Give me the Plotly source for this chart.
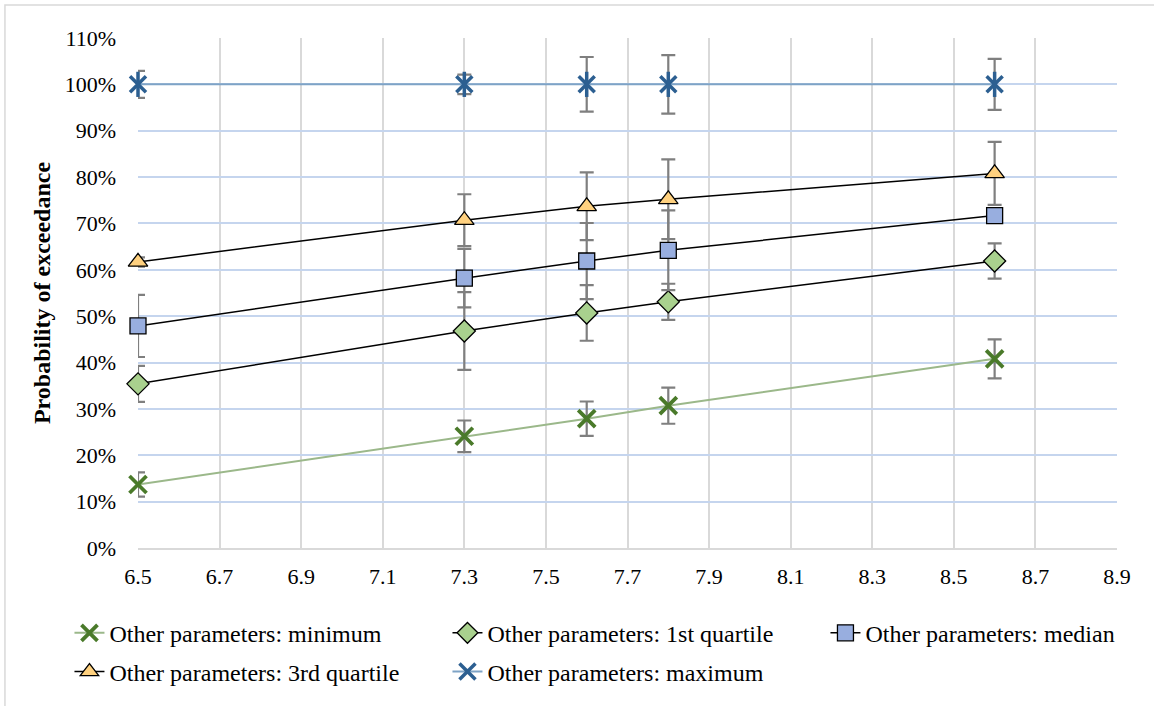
import plotly.graph_objects as go

x_vals = [6.5, 7.3, 7.6, 7.8, 8.6]

minimum = [0.137, 0.241, 0.279, 0.307, 0.408]
minimum_err = [0.026, 0.034, 0.037, 0.039, 0.042]

q1 = [0.354, 0.468, 0.507, 0.531, 0.619]
q1_err = [0.039, 0.084, 0.060, 0.039, 0.038]

median = [0.479, 0.582, 0.619, 0.642, 0.717]
median_err = [0.067, 0.063, 0.082, 0.086, 0.015]

q3 = [0.617, 0.707, 0.737, 0.752, 0.808]
q3_err = [0.010, 0.056, 0.073, 0.086, 0.068]

maximum = [1.0, 1.0, 1.0, 1.0, 1.0]
maximum_err = [0.029, 0.021, 0.059, 0.063, 0.055]

names = [
    "Other parameters: minimum",
    "Other parameters: 1st quartile",
    "Other parameters: median",
    "Other parameters: 3rd quartile",
    "Other parameters: maximum",
]

FONT = "Liberation Serif, Times New Roman, serif"
ERR_COLOR = "#7f7f7f"
MAX_COLOR = "#2c5f91"


def err(arr):
    return dict(type="data", array=arr, visible=True, color=ERR_COLOR,
                thickness=2.2, width=7)


fig = go.Figure()

fig.add_trace(go.Scatter(
    x=x_vals, y=minimum, name=names[0], mode="lines+markers", legend="legend",
    line=dict(color="#9bb88a", width=2),
    marker=dict(symbol="x-thin-open", size=17,
                line=dict(color="#4a7a2a", width=3.8), color="#4a7a2a"),
    error_y=err(minimum_err), cliponaxis=False,
))
fig.add_trace(go.Scatter(
    x=x_vals, y=q1, name=names[1], mode="lines+markers", legend="legend",
    line=dict(color="#000000", width=1.5),
    marker=dict(symbol="diamond", size=17, color="#a9d18e",
                line=dict(color="#000000", width=1.3)),
    error_y=err(q1_err), cliponaxis=False,
))
fig.add_trace(go.Scatter(
    x=x_vals, y=median, name=names[2], mode="lines+markers", legend="legend2",
    line=dict(color="#000000", width=1.5),
    marker=dict(symbol="square", size=16, color="#98aedf",
                line=dict(color="#000000", width=1.3)),
    error_y=err(median_err), cliponaxis=False,
))
fig.add_trace(go.Scatter(
    x=x_vals, y=q3, name=names[3], mode="lines+markers", legend="legend3",
    line=dict(color="#000000", width=1.5),
    marker=dict(symbol="triangle-up", size=17, color="#ffd17f",
                line=dict(color="#000000", width=1.3)),
    error_y=err(q3_err), cliponaxis=False,
))
fig.add_trace(go.Scatter(
    x=x_vals, y=maximum, name=names[4], mode="lines+markers", legend="legend3",
    line=dict(color="#7ea3c6", width=2),
    marker=dict(symbol="x-thin-open", size=16,
                line=dict(color=MAX_COLOR, width=3.5), color=MAX_COLOR),
    error_y=err(maximum_err), cliponaxis=False,
))
fig.add_trace(go.Scatter(
    x=x_vals, y=maximum, name=names[4], mode="markers", showlegend=False,
    marker=dict(symbol="line-ns-open", size=18, color=MAX_COLOR,
                line=dict(color=MAX_COLOR, width=3.5)),
    cliponaxis=False, hoverinfo="skip",
))

leg_common = dict(
    orientation="h", xanchor="left", yanchor="top",
    entrywidthmode="pixels",
    font=dict(family=FONT, size=24, color="#000000"),
    traceorder="normal", bgcolor="rgba(0,0,0,0)",
)

fig.update_layout(
    width=1154, height=706,
    margin=dict(l=138, r=37, t=38, b=156),
    paper_bgcolor="white", plot_bgcolor="white",
    font=dict(family=FONT, size=22, color="#000000"),
    showlegend=True,
    legend=dict(x=-0.0700, y=-0.123, entrywidth=333, **leg_common),
    legend2=dict(x=0.7022, y=-0.123, entrywidth=0, **leg_common),
    legend3=dict(x=-0.0700, y=-0.199, entrywidth=333, **leg_common),
    xaxis=dict(
        range=[6.5, 8.9], dtick=0.2, tick0=6.5, tickformat=".1f",
        showgrid=True, gridcolor="#d9d9d9", gridwidth=2,
        zeroline=False, showline=True, linecolor="#d9d9d9", linewidth=1.5,
        ticks="", ticklabelstandoff=8,
        tickfont=dict(family=FONT, size=22),
    ),
    yaxis=dict(
        range=[0, 1.1], dtick=0.1, tick0=0, tickformat=".0%",
        showgrid=True, gridcolor="#c5d5ee", gridwidth=2,
        zeroline=False, showline=False,
        ticks="", ticklabelstandoff=21,
        tickfont=dict(family=FONT, size=22),
        title=dict(text="<b>Probability of exceedance</b>", standoff=7,
                   font=dict(family=FONT, size=24)),
    ),
    shapes=[dict(
        type="rect", xref="paper", yref="paper",
        x0=-0.1359, x1=1.05, y0=-0.35, y1=1.0645,
        line=dict(color="#d9d9d9", width=1.5), fillcolor="rgba(0,0,0,0)",
        layer="below",
    )],
)

fig.write_html("out.html", post_script="document.body.style.margin='0';",
               config={"displayModeBar": False})
